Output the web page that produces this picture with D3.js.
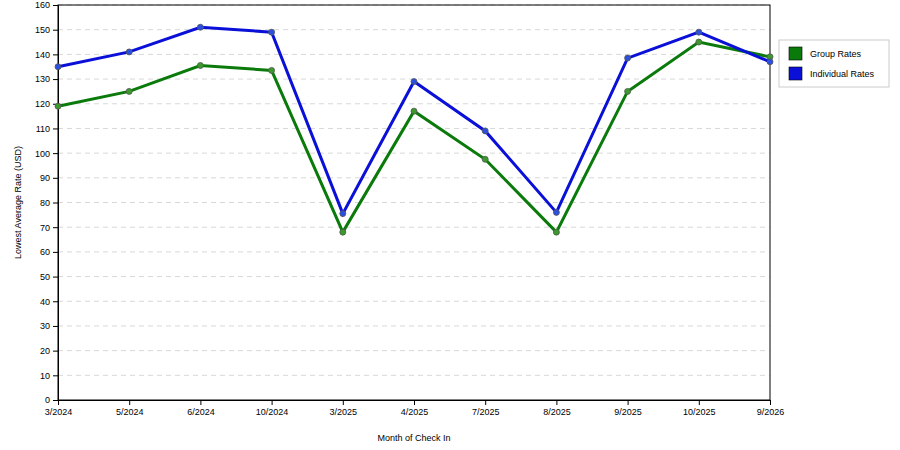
<!DOCTYPE html>
<html><head><meta charset="utf-8">
<script src="https://cdn.jsdelivr.net/npm/d3@7"></script>
<style>body{margin:0;background:#fff}svg{font-family:"Liberation Sans",Arial,sans-serif}</style>
</head><body><svg id="chart" width="900" height="450"></svg>
<script>
let months = ["3/2024","5/2024","6/2024","10/2024","3/2025","4/2025","7/2025","8/2025","9/2025","10/2025","9/2026"];
let groupRates = [119,125,135.5,133.5,68,117,97.5,68,125,145,139];
let indivRates = [135,141,151,149,75.5,129,109,76,138.5,149,137];
let yTicks = d3.range(0,161,10);

let svg = d3.select("#chart");
let plotL = 58, plotR = 770, plotT = 5, plotB = 400;

let x = d3.scalePoint().domain(months).range([plotL, plotR]);
let y = d3.scaleLinear().domain([0,160]).range([plotB, plotT]);

// grid
svg.append("g").selectAll("line").data(yTicks.slice(1)).enter().append("line")
    .attr("x1", plotL).attr("x2", plotR)
    .attr("y1", d => y(d)).attr("y2", d => y(d))
    .attr("stroke", "#d8d8d8").attr("stroke-dasharray", "5,4");

svg.append("rect").attr("x", plotL).attr("y", plotT)
    .attr("width", plotR-plotL).attr("height", plotB-plotT)
    .attr("fill", "none").attr("stroke", "#000");

let ya = svg.append("g").attr("transform", `translate(${plotL},0)`)
    .call(d3.axisLeft(y).tickValues(yTicks).tickSize(5).tickPadding(3));
let xa = svg.append("g").attr("transform", `translate(0,${plotB})`)
    .call(d3.axisBottom(x).tickSize(5).tickPadding(4));
[ya, xa].forEach(a => {
    a.selectAll("text").attr("font-size", 9).attr("font-family", "Liberation Sans, Arial, sans-serif");
    a.select(".domain").attr("stroke", "#000");
});

svg.append("text").attr("x", (plotL+plotR)/2).attr("y", 441)
    .attr("text-anchor", "middle").attr("font-size", 9).text("Month of Check In");
svg.append("text").attr("transform", `translate(21,${(plotT+plotB)/2}) rotate(-90)`)
    .attr("text-anchor", "middle").attr("font-size", 9).text("Lowest Average Rate (USD)");

let series = [
    {name: "Group Rates", vals: groupRates, color: "#0a7a0a", dot: "#3a9a2a"},
    {name: "Individual Rates", vals: indivRates, color: "#0a10d8", dot: "#2a50e0"}
];
let line = d3.line().x((d, i) => x(months[i])).y(d => y(d));
series.forEach(s => {
    svg.append("path").datum(s.vals).attr("d", line)
        .attr("fill", "none").attr("stroke", s.color).attr("stroke-width", 3);
    svg.append("g").selectAll("circle").data(s.vals).enter().append("circle")
        .attr("cx", (d, i) => x(months[i])).attr("cy", d => y(d)).attr("r", 3)
        .attr("fill", s.dot).attr("stroke", "#555").attr("stroke-width", 0.8);
});

// legend
let lg = svg.append("g");
lg.append("rect").attr("x", 779).attr("y", 40).attr("width", 110).attr("height", 47)
    .attr("fill", "#fff").attr("stroke", "#ccc");
series.forEach((s, i) => {
    lg.append("rect").attr("x", 789).attr("y", 47 + i*20).attr("width", 13).attr("height", 13)
        .attr("fill", s.color).attr("stroke", "#000").attr("stroke-width", 0.6);
    lg.append("text").attr("x", 810).attr("y", 57 + i*20).attr("font-size", 9).text(s.name);
});
</script></body></html>
